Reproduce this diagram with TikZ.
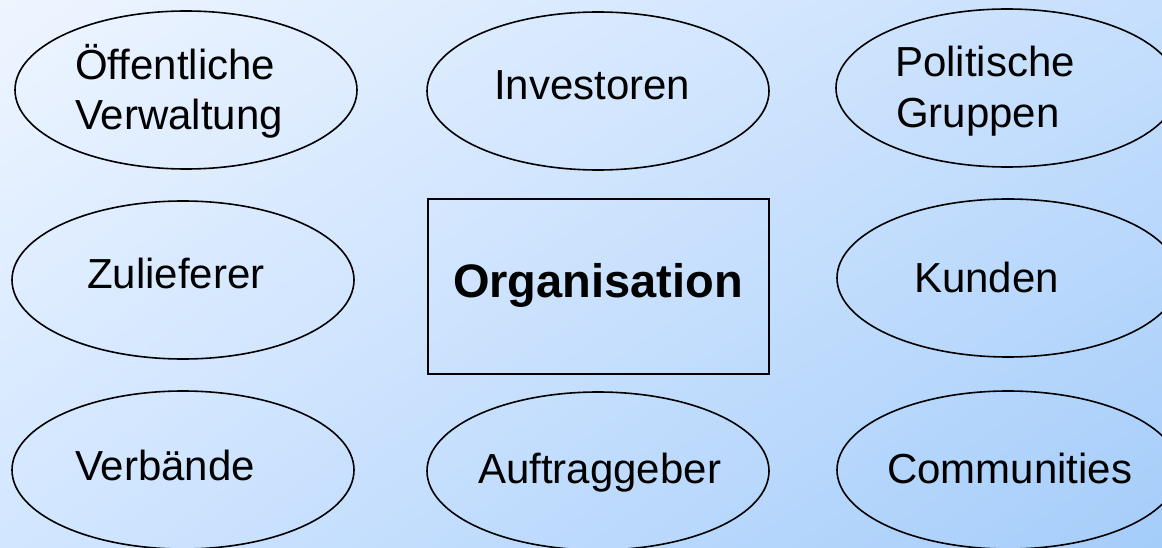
\documentclass[tikz,border=0pt]{standalone}
\usepackage{fontspec}
\setmainfont{Liberation Sans}
\usetikzlibrary{shapes.geometric,shadings}
\definecolor{bgUL}{HTML}{EEF5FF}
\definecolor{bgLR}{HTML}{A5CDFA}
\definecolor{bgUR}{HTML}{C6DFFD}
\definecolor{bgLL}{HTML}{D2E6FF}
\tikzset{
  stake/.style={ellipse, draw=black, line width=1.6pt, minimum width=342pt, minimum height=158pt, inner sep=0pt},
  orgbox/.style={rectangle, draw=black, line width=1.6pt, minimum width=341pt, minimum height=175pt, inner sep=0pt},
  lbl/.style={anchor=base west, inner sep=0pt, font=\fontsize{42}{50}\selectfont},
  orglbl/.style={anchor=base, inner sep=0pt, font=\fontsize{47}{56}\selectfont\bfseries}
}
\begin{document}
\begin{tikzpicture}[x=1pt,y=-1pt]
\useasboundingbox (0,0) rectangle (1162,548);
\clip (0,0) rectangle (1162,548);
\shade[upper left=bgUL, lower right=bgLR, upper right=bgUR, lower left=bgLL] (0,0) rectangle (1162,548);
% ellipses
\node[stake] (oev) at (186,90) {};
\node[stake] (inv) at (598,91) {};
\node[stake] (pol) at (1007,88) {};
\node[stake] (zul) at (183,280) {};
\node[orgbox] (org) at (598.5,286.5) {};
\node[stake] (kun) at (1008,278) {};
\node[stake] (ver) at (183,470) {};
\node[stake] (auf) at (598,471) {};
\node[stake] (com) at (1008,470) {};
% labels
\node[lbl] (oevA) at (75,80) {Öffentliche};
\node[lbl] (oevB) at (75,130) {Verwaltung};
\node[lbl] (invA) at (494,100) {Investoren};
\node[lbl] (polA) at (895,77) {Politische};
\node[lbl] (polB) at (896,128) {Gruppen};
\node[lbl] (zulA) at (87,288) {Zulieferer};
\node[orglbl] (orgA) at (598,297) {Organisation};
\node[lbl] (kunA) at (914,292) {Kunden};
\node[lbl] (verA) at (75,480) {Verbände};
\node[lbl] (aufA) at (478,483) {Auftraggeber};
\node[lbl] (comA) at (887,483) {Communities};
\end{tikzpicture}
\end{document}
